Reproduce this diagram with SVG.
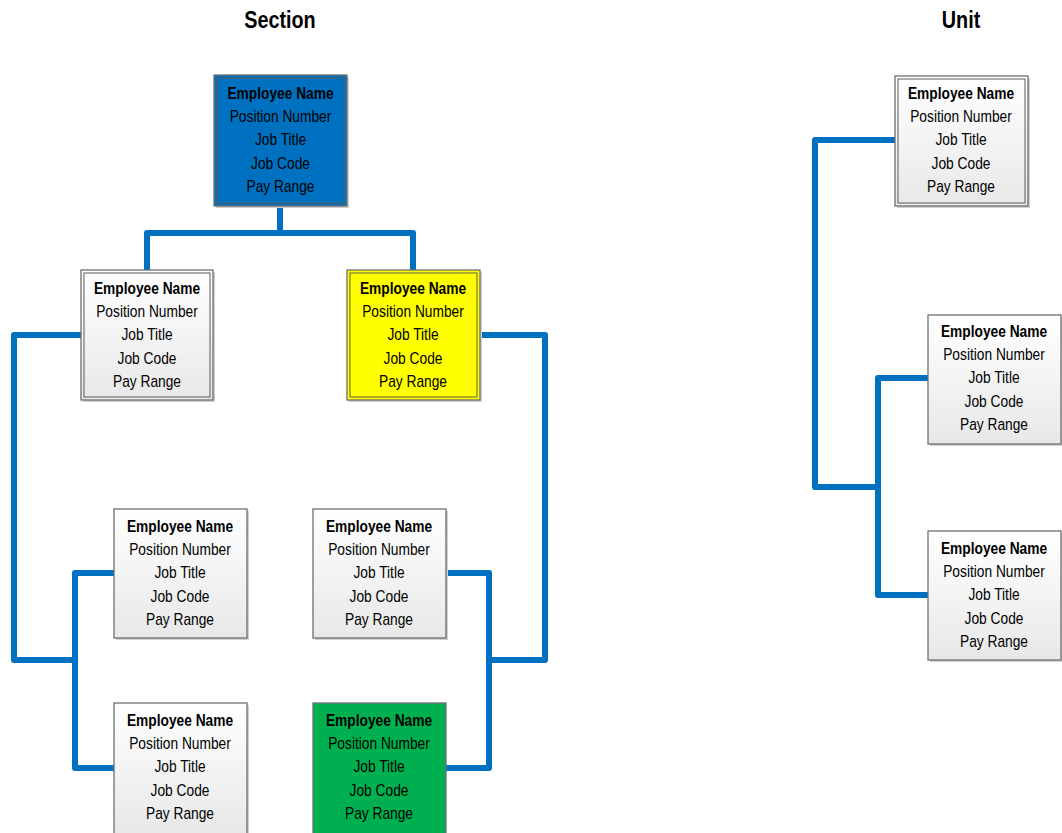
<svg xmlns="http://www.w3.org/2000/svg" width="1062" height="833" viewBox="0 0 1062 833">
<style>
.t{font-family:"Liberation Sans",Arial,sans-serif;font-size:16px;text-anchor:middle;fill:#000}
.b{font-weight:bold}
.h{font-family:"Liberation Sans",Arial,sans-serif;font-size:23px;font-weight:bold;text-anchor:middle;fill:#000}
.o{stroke:#6f6f6f;stroke-width:1.3}
.i{fill:none;stroke:#5a5a5a;stroke-width:1}
.c{fill:none;stroke:#0070C0;stroke-width:6;stroke-linejoin:round;stroke-linecap:round}
.sh{fill:#d0d0d0}
</style>
<defs>
<linearGradient id="g" x1="0" y1="0" x2="0" y2="1">
<stop offset="0" stop-color="#ffffff"/>
<stop offset="1" stop-color="#e8e8e8"/>
</linearGradient>
<g id="lbl" transform="scale(0.86 1)">
<text class="t b" x="0" y="24">Employee Name</text>
<text class="t" x="0" y="47">Position Number</text>
<text class="t" x="0" y="70.5">Job Title</text>
<text class="t" x="0" y="94">Job Code</text>
<text class="t" x="0" y="117">Pay Range</text>
</g>
</defs>
<text class="h" transform="translate(280 28) scale(0.86 1)">Section</text>
<text class="h" transform="translate(961 28) scale(0.86 1)">Unit</text>
<g id="connectors">
<polyline class="c" points="280,206 280,233 147,233 147,270"/>
<polyline class="c" points="280,233 413,233 413,270"/>
<polyline class="c" points="81,335 14,335 14,660 75,660"/>
<polyline class="c" points="114,573 75,573 75,768 114,768"/>
<polyline class="c" points="480,335 545,335 545,660 489,660"/>
<polyline class="c" points="446,573 489,573 489,768 446,768"/>
<polyline class="c" points="895,140 815,140 815,487 878,487"/>
<polyline class="c" points="928,378 878,378 878,595 928,595"/>
</g>
<g id="n-section">
<rect class="sh" x="216" y="77" width="133" height="131"/>
<rect class="o" x="214" y="75" width="133" height="131" fill="#0070C0"/>
<rect class="i" x="217" y="78" width="127" height="125" stroke="#3a3a3a"/>
<use href="#lbl" x="280.5" y="75"/>
</g>
<g id="n-left">
<rect class="sh" x="83" y="272" width="132" height="130"/>
<rect class="o" x="81" y="270" width="132" height="130" fill="url(#g)"/>
<rect class="i" x="84" y="273" width="126" height="124"/>
<use href="#lbl" x="147" y="270"/>
</g>
<g id="n-yellow">
<rect class="sh" x="349" y="272" width="133" height="130"/>
<rect class="o" x="347" y="270" width="133" height="130" fill="#FFFF00"/>
<rect class="i" x="350" y="273" width="127" height="124"/>
<use href="#lbl" x="413" y="270"/>
</g>
<g id="n-ll1">
<rect class="sh" x="116" y="511" width="133" height="129"/>
<rect class="o" x="114" y="509" width="133" height="129" fill="url(#g)"/>
<use href="#lbl" x="180" y="508"/>
</g>
<g id="n-ll2">
<rect class="sh" x="116" y="705" width="133" height="130"/>
<rect class="o" x="114" y="703" width="133" height="131" fill="url(#g)"/>
<use href="#lbl" x="180" y="702"/>
</g>
<g id="n-rl1">
<rect class="sh" x="315" y="511" width="133" height="129"/>
<rect class="o" x="313" y="509" width="133" height="129" fill="url(#g)"/>
<use href="#lbl" x="379" y="508"/>
</g>
<g id="n-green">
<rect class="o" x="313" y="703" width="133" height="131" fill="#00B050"/>
<use href="#lbl" x="379" y="702"/>
</g>
<g id="n-unit">
<rect class="sh" x="897" y="78" width="133" height="130"/>
<rect class="o" x="895" y="76" width="133" height="130" fill="url(#g)"/>
<rect class="i" x="898" y="79" width="127" height="124"/>
<use href="#lbl" x="961" y="75"/>
</g>
<g id="n-unit1">
<rect class="sh" x="930" y="317" width="133" height="129"/>
<rect class="o" x="928" y="315" width="133" height="129" fill="url(#g)"/>
<use href="#lbl" x="994" y="313"/>
</g>
<g id="n-unit2">
<rect class="sh" x="930" y="533" width="133" height="129"/>
<rect class="o" x="928" y="531" width="133" height="129" fill="url(#g)"/>
<use href="#lbl" x="994" y="530"/>
</g>
</svg>
